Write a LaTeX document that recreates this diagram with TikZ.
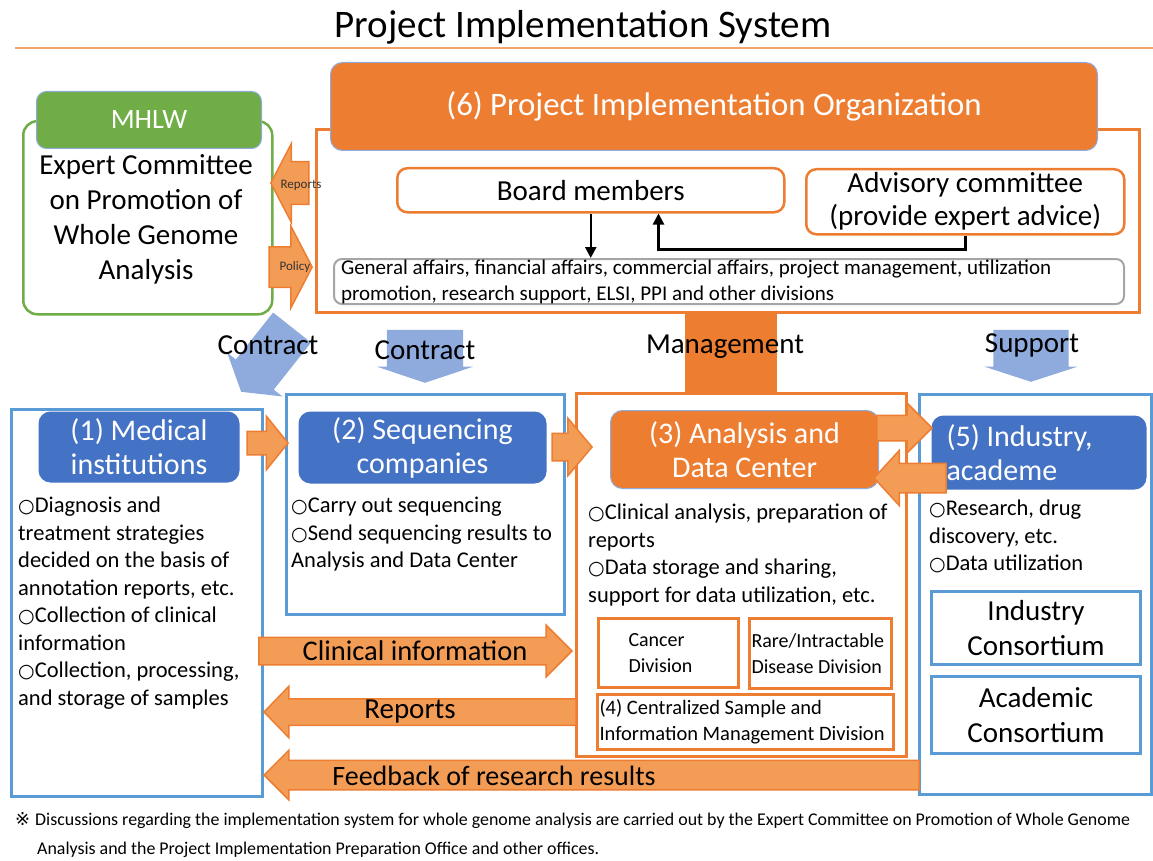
\documentclass[tikz,border=0pt]{standalone}
\usepackage{fontspec}
\setmainfont{Carlito}
\newfontfamily\symfont{DejaVu Sans}
\usetikzlibrary{positioning,arrows.meta,shapes.arrows}
\definecolor{pjorange}{HTML}{ED7D31}
\definecolor{pjarrow}{HTML}{F39C55}
\definecolor{pjblue}{HTML}{4472C4}
\definecolor{pjframe}{HTML}{5B9BD5}
\definecolor{pjgreen}{HTML}{70AD47}
\definecolor{pjpale}{HTML}{8FAADC}
\definecolor{pjgray}{HTML}{A5A5A5}
\definecolor{pjline}{HTML}{F2A46B}
\newcommand{\fs}[2]{\fontsize{#1}{#2}\selectfont}
\newcommand{\bul}{{\symfont\fontsize{19}{19}\selectfont ○}}
\tikzset{
  pjbox/.style={rectangle, inner sep=0pt, anchor=north west, line width=3pt},
  blueframe/.style={pjbox, draw=pjframe},
  orangeframe/.style={pjbox, draw=pjorange},
  greenframe/.style={pjbox, draw=pjgreen, line width=2.5pt, rounded corners=14pt},
  bluehead/.style={pjbox, fill=pjblue, rounded corners=12pt, text=white, align=center, font=\fs{30}{34}},
  orangehead/.style={pjbox, fill=pjorange, draw=pjpale, line width=1pt, rounded corners=12pt, text=white, align=center},
  greenhead/.style={pjbox, fill=pjgreen, draw=pjpale, line width=1pt, rounded corners=10pt, text=white, font=\fs{28}{28}},
  whitebox/.style={pjbox, draw=pjorange, fill=white, rounded corners=10pt, line width=2.5pt, align=center, font=\fs{29}{33}},
  graybox/.style={pjbox, draw=pjgray, rounded corners=8pt, line width=2pt, align=flush left, font=\fs{21}{26}},
  divbox/.style={pjbox, draw=pjorange, align=flush left, font=\fs{20}{26}},
  consbox/.style={pjbox, draw=pjframe, align=center, font=\fs{29}{35}},
  bullets/.style={anchor=north west, inner sep=0pt, align=left, font=\fs{22.5}{27.5}},
  blockarrow/.style={single arrow, draw=pjorange, fill=pjarrow, line width=1.5pt, inner xsep=0pt, anchor=tip},
  palearrow/.style={single arrow, fill=pjpale, inner xsep=0pt, anchor=tip},
  ctrl/.style={line width=2.5pt, -{Triangle[length=11pt,width=11pt]}},
  tag/.style={inner sep=0pt, font=\fs{29}{29}},
  smalltag/.style={inner sep=0pt, text=black!80, font=\fs{13}{13}}
}
\begin{document}
\begin{tikzpicture}[x=1pt,y=-1pt]
\useasboundingbox (0,0) rectangle (1153,861);

% title
\node[font=\fs{39}{39}] (title) at (583,27) {Project Implementation System};
\draw[pjline, line width=2pt] (15,48) -- (1153,48);

% (6) organization
\node[orangeframe, minimum width=823pt, minimum height=183pt] (orgframe) at (315,128) {};
\node[orangehead, minimum width=767pt, minimum height=88pt, font=\fs{32.8}{32.8}] (orghead) at (330,62) {(6) Project Implementation Organization};
\node[whitebox, minimum width=387pt, minimum height=44pt] (board) at (396,167) {Board members};
\node[whitebox, minimum width=318pt, minimum height=65pt] (advisory) at (805,168) {Advisory committee\\(provide expert advice)};
\node[graybox, minimum width=790pt, minimum height=45pt, text width=776pt, inner xsep=7pt] (divisions) at (333,258)
  {General affairs, financial affairs, commercial affairs, project management, utilization\\promotion, research support, ELSI, PPI and other divisions};
\draw[ctrl] (board.south) -- (board.south |- divisions.north);
\draw[ctrl] (advisory.south) -- ++(0,14) -| ([xshift=-127pt]board.south east);

% MHLW
\node[greenframe, minimum width=249pt, minimum height=193pt] (mhlwframe) at (22,120) {};
\node[greenhead, minimum width=225pt, minimum height=57pt] (mhlw) at (36,91) {MHLW};
\node[align=center, font=\fs{29}{35}] (expert) at (146,219) {Expert Committee\\on Promotion of\\Whole Genome\\Analysis};
\node[blockarrow, shape border rotate=180, minimum height=38pt, inner ysep=20.5pt, single arrow head extend=18pt, single arrow tip angle=125] (toreports) at (270,183) {};
\node[blockarrow, minimum height=43pt, inner ysep=19.5pt, single arrow head extend=20.5pt, single arrow tip angle=125] (topolicy) at (313,267) {};
\node[smalltag] (reportstag) at (301,185) {Reports};
\node[smalltag] (policytag) at (295,267) {Policy};

% management trunk
\node[pjbox, fill=pjorange, minimum width=92pt, minimum height=81pt, line width=0pt] (trunk) at (685,311) {};

% (1) medical institutions
\node[blueframe, minimum width=251pt, minimum height=387pt] (medframe) at (10,408) {};
\node[bluehead, minimum width=201pt, minimum height=71pt] (medhead) at (37,410) {(1) Medical\\institutions};
\node[bullets] (medtext) at (18,497) {\bul Diagnosis and\\treatment strategies\\decided on the basis of\\annotation reports, etc.\\\bul Collection of clinical\\information\\\bul Collection, processing,\\and storage of samples};

% (2) sequencing companies
\node[blueframe, minimum width=278pt, minimum height=220pt] (seqframe) at (285,393) {};
\node[bluehead, minimum width=248pt, minimum height=72pt] (seqhead) at (297,410) {(2) Sequencing\\companies};
\node[bullets] (seqtext) at (291,497) {\bul Carry out sequencing\\\bul Send sequencing results to\\Analysis and Data Center};

% (3) analysis and data center
\node[orangeframe, minimum width=330pt, minimum height=363pt] (adcframe) at (575,392) {};
\node[orangehead, minimum width=268pt, minimum height=78pt, font=\fs{30}{34}] (adchead) at (610,410) {(3) Analysis and\\Data Center};
\node[bullets] (adctext) at (588,504) {\bul Clinical analysis, preparation of\\reports\\\bul Data storage and sharing,\\support for data utilization, etc.};
\node[divbox, minimum width=140pt, minimum height=69pt, text width=108pt, inner xsep=16pt] (cancer) at (597,617) {\hspace*{14pt}Cancer\\\hspace*{14pt}Division};
\node[divbox, minimum width=142pt, minimum height=70pt, text width=138pt, inner xsep=2pt] (rare) at (748,617) {Rare/Intractable\\Disease Division};
\node[divbox, minimum width=296pt, minimum height=55pt, text width=292pt, inner xsep=2pt, font=\fs{20.5}{26}] (csim) at (596,693) {(4) Centralized Sample and\\Information Management Division};

% (5) industry, academe
\node[blueframe, minimum width=232pt, minimum height=400pt] (indframe) at (918,393) {};
\node[bluehead, minimum width=215pt, minimum height=74pt, text width=185pt, inner xsep=15pt, align=flush left] (indhead) at (930,414) {(5) Industry,\\academe};
\node[bullets] (indtext) at (929,500) {\bul Research, drug\\discovery, etc.\\\bul Data utilization};
\node[consbox, minimum width=209pt, minimum height=73pt] (indcons) at (930,590) {Industry\\Consortium};
\node[consbox, minimum width=209pt, minimum height=77pt] (acacons) at (930,675) {Academic\\Consortium};

% contract / support arrows
\node[palearrow, rotate=231.6, minimum height=82pt, inner ysep=24pt, single arrow head extend=11pt, single arrow tip angle=116] (contract1) at (241,392) {};
\node[palearrow, rotate=270, minimum height=53pt, inner ysep=38pt, single arrow head extend=10pt, single arrow tip angle=143] (contract2) at (425,383) {};
\node[palearrow, rotate=270, minimum height=52pt, inner ysep=37.5pt, single arrow head extend=9pt, single arrow tip angle=144] (support) at (1031,382) {};
\node[tag] (contract1tag) at (268,345) {Contract};
\node[tag] (contract2tag) at (425,350) {Contract};
\node[tag] (supporttag) at (1032,345) {Support};
\node[tag] (mgmttag) at (725,347) {Management};

% flows between institutions
\node[blockarrow, minimum height=41pt, inner ysep=11pt, single arrow head extend=15pt, single arrow tip angle=102] (med2seq) at (289,443) {};
\node[blockarrow, minimum height=40pt, inner ysep=13pt, single arrow head extend=15pt, single arrow tip angle=100] (seq2adc) at (593,447) {};
\node[blockarrow, minimum height=55pt, inner ysep=12pt, single arrow head extend=12pt, single arrow tip angle=90] (adc2ind) at (933,428) {};
\node[blockarrow, shape border rotate=180, minimum height=72pt, inner ysep=14pt, single arrow head extend=13pt, single arrow tip angle=95] (ind2adc) at (873,478) {};
\node[blockarrow, minimum height=313pt, inner ysep=13pt, single arrow head extend=12pt, single arrow tip angle=90] (clinical) at (573,651) {};
\node[blockarrow, shape border rotate=180, minimum height=312pt, inner ysep=12.5pt, single arrow head extend=12.5pt, single arrow tip angle=92] (reports) at (263,712) {};
\node[blockarrow, shape border rotate=180, minimum height=655pt, inner ysep=14pt, single arrow head extend=10pt, single arrow tip angle=90] (feedback) at (263,775) {};
\node[tag, font=\fs{28.5}{28.5}] (clinicaltag) at (415,651) {Clinical information};
\node[tag] (reportstag2) at (410,712) {Reports};
\node[tag, font=\fs{28}{28}] (feedbacktag) at (494,776) {Feedback of research results};

% footnote
\node[anchor=north west, inner sep=0pt, align=left, font=\fs{17.9}{29}] (note) at (15,812)
  {{\symfont ※}\hspace{5pt}Discussions regarding the implementation system for whole genome analysis are carried out by the Expert Committee on Promotion of Whole Genome\\\hspace*{22pt}Analysis and the Project Implementation Preparation Office and other offices.};
\end{tikzpicture}
\end{document}
